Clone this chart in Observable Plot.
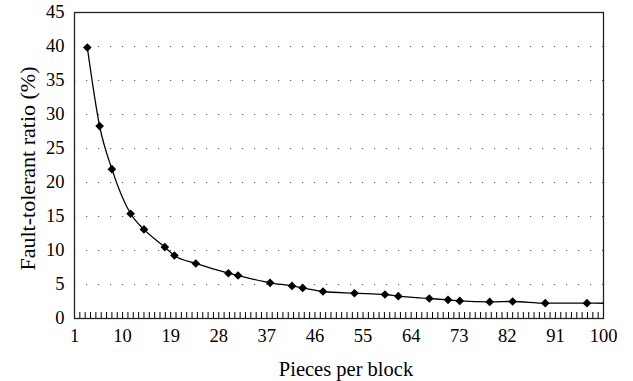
<!DOCTYPE html>
<html><head><meta charset="utf-8">
<script src="https://cdn.jsdelivr.net/npm/d3@7"></script>
<script src="https://cdn.jsdelivr.net/npm/@observablehq/plot@0.6"></script>
<style>
body{margin:0;background:#fff}
</style>
</head><body><div id="chart"></div>
<script>
const pieces = [3.4, 5.7, 8.0, 11.5, 14.0, 17.9, 19.7, 23.7, 29.8, 31.6, 37.6, 41.7, 43.7, 47.5, 53.4, 59.1, 61.6, 67.4, 70.9, 73.1, 78.7, 83.0, 89.1, 96.9];
const ratio  = [39.85, 28.3, 21.96, 15.4, 13.1, 10.5, 9.26, 8.09, 6.66, 6.32, 5.24, 4.79, 4.5, 3.97, 3.72, 3.53, 3.28, 2.94, 2.74, 2.59, 2.44, 2.5, 2.25, 2.25];
const lineEndPieces = 100;
const lineEndRatio = 2.24;
const xTickLabels = [1, 10, 19, 28, 37, 46, 55, 64, 73, 82, 91, 100];
const yTickLabels = [0, 5, 10, 15, 20, 25, 30, 35, 40, 45];
const minorTicks = d3.range(1, 101);
const gridLevels = [5, 10, 15, 20, 25, 30, 35, 40];
const xTitle = "Pieces per block";
const yTitle = "Fault-tolerant ratio (%)";

const points = pieces.map((p, i) => ({x: p, y: ratio[i]}));
const linePts = [...points, {x: lineEndPieces, y: lineEndRatio}];

const chart = Plot.plot({
  width: 633,
  height: 381,
  marginLeft: 74,
  marginRight: 30,
  marginTop: 12,
  marginBottom: 63,
  style: {fontFamily: "Liberation Serif", fontSize: "18.5px", color: "#000", background: "#fff"},
  x: {domain: [1, 100]},
  y: {domain: [0, 45]},
  marks: [
    Plot.gridY(gridLevels, {stroke: "#555", strokeOpacity: 1, strokeDasharray: "1.2,10.8", strokeWidth: 1.2}),
    Plot.axisY(yTickLabels, {tickSize: 0, tickPadding: 10, label: null}),
    Plot.axisX(minorTicks, {tickSize: -6, tickFormat: () => "", label: null}),
    Plot.axisX(xTickLabels, {tickSize: 0, tickPadding: 10, label: null}),
    Plot.text([xTitle], {frameAnchor: "bottom", textAnchor: "middle", dx: 7, dy: 51, lineAnchor: "middle", fontSize: 20.5, fill: "#000"}),
    Plot.text([yTitle], {frameAnchor: "left", textAnchor: "middle", rotate: -90, dx: -47, dy: 3, lineAnchor: "middle", fontSize: 22, fill: "#000"}),
    Plot.frame({stroke: "#222", strokeWidth: 1.3}),
    Plot.line(linePts, {x: "x", y: "y", curve: "monotone-x", stroke: "#000", strokeWidth: 1.3}),
    Plot.dot(points, {x: "x", y: "y", symbol: "diamond2", r: 3.9, fill: "#000", stroke: "none"})
  ]
});
document.getElementById("chart").appendChild(chart);
</script>
</body></html>
